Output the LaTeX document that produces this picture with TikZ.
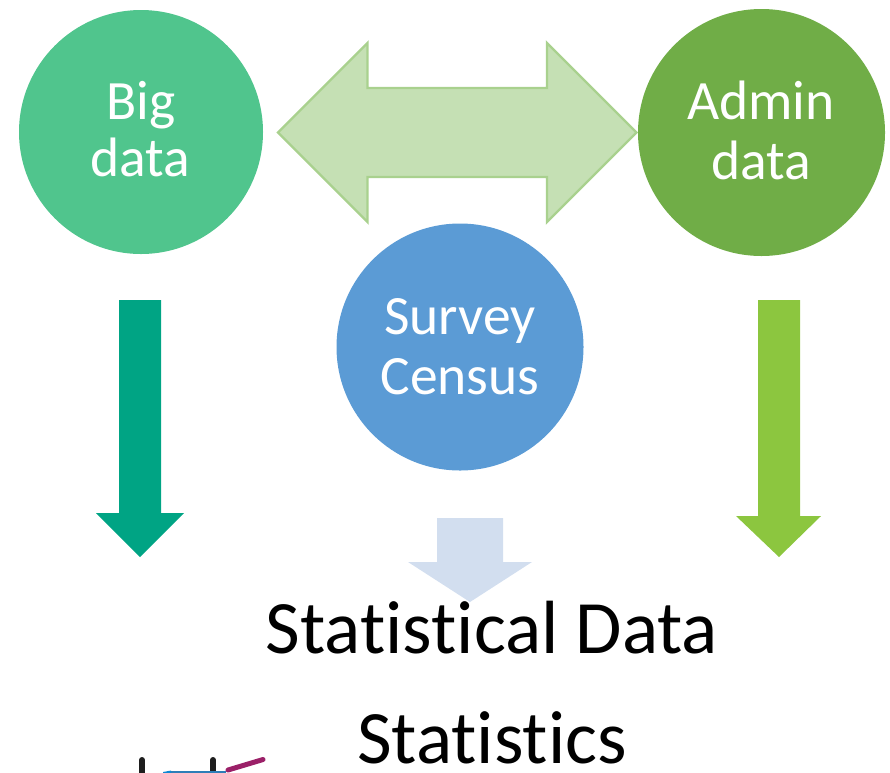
\documentclass[tikz,border=0pt]{standalone}
\usepackage{fontspec}
\setmainfont[Ligatures=NoCommon]{Carlito}
\tikzset{
  hub/.style={circle,inner sep=0pt,minimum size=#1,text=white},
  label line/.style={anchor=base,inner sep=0pt,text=white,font=\fontsize{55.5}{55.5}\selectfont},
  big text/.style={anchor=base,inner sep=0pt,text=black,font=\fontsize{75.4}{75.4}\selectfont}
}
\definecolor{bigc}{HTML}{50C58D}
\definecolor{adminc}{HTML}{70AD47}
\definecolor{surveyc}{HTML}{5B9BD5}
\definecolor{dblfill}{HTML}{C5E0B4}
\definecolor{dbledge}{HTML}{A9D18E}
\definecolor{tealc}{HTML}{00A484}
\definecolor{limec}{HTML}{8CC63F}
\definecolor{paleblue}{HTML}{D2DEEF}
\definecolor{iconblack}{HTML}{1E1E1E}
\definecolor{iconblue}{HTML}{2E7EB8}
\definecolor{iconmag}{HTML}{9B2068}
\begin{document}
\begin{tikzpicture}[x=1pt,y=-1pt]
\useasboundingbox (0,0) rectangle (890,772);
% double arrow
\draw[fill=dblfill,draw=dbledge,line width=2.4pt,miter limit=10]
  (278,132.5)--(367.5,43)--(367.5,88)--(547,88)--(547,43)--(636.5,132.5)--(547,222)--(547,177)--(367.5,177)--(367.5,222)--cycle;
% circles
\node[hub=244pt,fill=bigc] (big) at (141,132) {};
\node[hub=247pt,fill=adminc] (admin) at (761.5,132.5) {};
\node[hub=247pt,fill=surveyc] (survey) at (460,347) {};
% labels
\node[label line] (t1) at (141,119) {Big};
\node[label line] (t2) at (140,176.5) {data};
\node[label line] (t3) at (761,119) {Admin};
\node[label line] (t4) at (761,179.5) {data};
\node[label line] (t5) at (460,334) {Survey};
\node[label line] (t6) at (460,394) {Census};
% down arrows
\fill[tealc] (119,300)--(161,300)--(161,513)--(184,513)--(140,557)--(96,513)--(119,513)--cycle;
\fill[limec] (758,300)--(800,300)--(800,516)--(821,516)--(779,557)--(736,516)--(758,516)--cycle;
\fill[paleblue] (437,518)--(503,518)--(503,562)--(532,562)--(470,602)--(408,562)--(437,562)--cycle;
% text
\node[big text] (sd) at (492,653) {Statistical Data};
\node[big text] (st) at (492,763.5) {Statistics};
% clipped icon
\begin{scope}
\clip (0,0) rectangle (890,772);
\draw[iconblack,line width=6pt,line cap=round] (142,760)--(142,790);
\draw[iconblack,line width=6pt,line cap=round] (213,760)--(213,790);
\fill[iconblue] (171,770.5) rectangle (226,790);
\fill[cyan!70!blue] (163,772)--(171,770.5)--(171,790)--(163,790)--cycle;
\draw[iconmag,line width=5pt,line cap=round] (228,770)--(263,759.5);
\end{scope}
\end{tikzpicture}
\end{document}
